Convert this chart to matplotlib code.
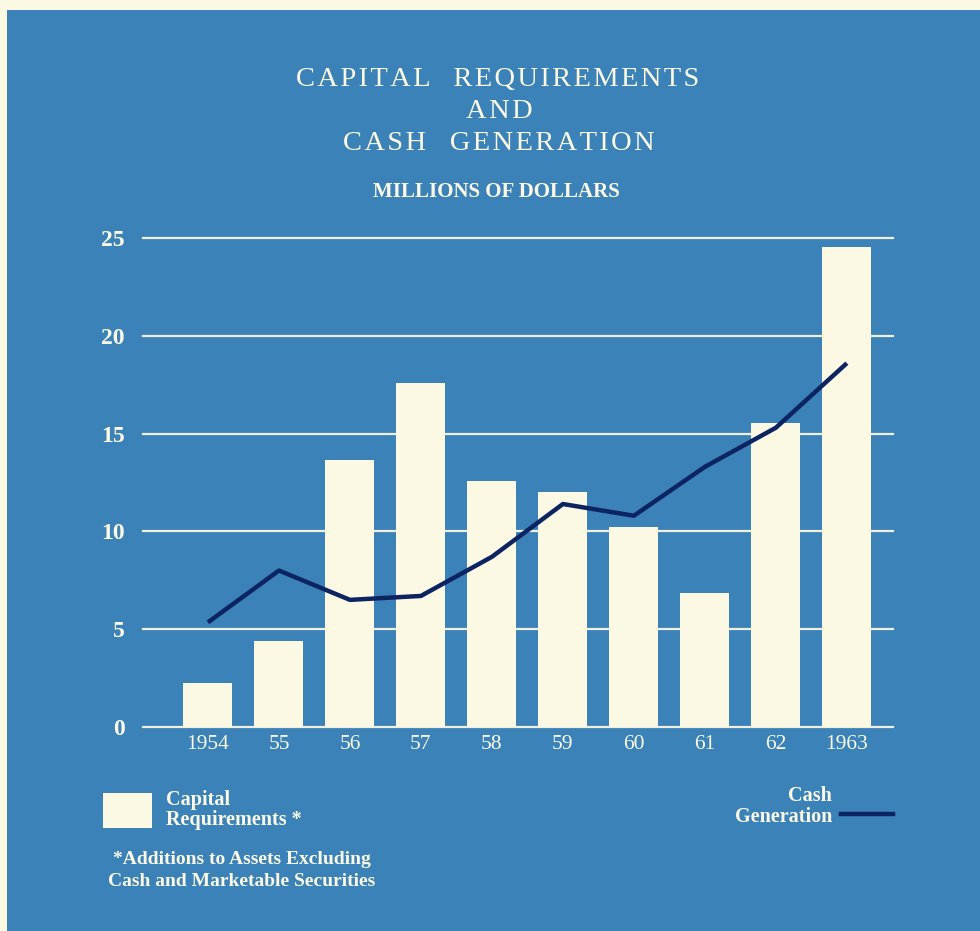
import matplotlib
matplotlib.use("Agg")
import matplotlib.pyplot as plt
from matplotlib.patches import Rectangle

# values (millions of dollars)
years = ["1954", "55", "56", "57", "58", "59", "60", "61", "62", "1963"]
capital_req = [2.25, 4.4, 13.65, 17.6, 12.6, 12.0, 10.2, 6.85, 15.55, 24.55]
cash_gen = [5.35, 8.0, 6.5, 6.7, 8.7, 11.4, 10.8, 13.3, 15.3, 18.6]
y_ticks = [0, 5, 10, 15, 20, 25]

BLUE = "#3b82b8"
CREAM = "#fbf9e4"
NAVY = "#0c2462"
SERIF = "Liberation Serif"


def spaced(s):
    # spread the letters a bit, like the printed title
    return "\u200a".join(s).replace("\u200a \u200a", "  ")


fig = plt.figure(figsize=(9.8, 9.31), dpi=100, facecolor=CREAM)
fig.patches.append(Rectangle((7 / 980, 0), 1, 1 - 10 / 931, transform=fig.transFigure,
                             facecolor=BLUE, edgecolor="none", zorder=-10))

ax = fig.add_axes([143 / 980, 1 - 727 / 931, 750 / 980, 489 / 931])
ax.set_facecolor("none")
x = range(len(years))

for v in y_ticks:
    ax.axhline(v, color="#f0eedc", lw=1.6, zorder=1, clip_on=False)

ax.bar(x, capital_req, width=0.69, color=CREAM, zorder=2)
ax.plot(x, cash_gen, color=NAVY, lw=3.2, zorder=3, solid_capstyle="butt")

ax.set_xlim(-0.915, 9.65)
ax.set_ylim(0, 25)
ax.set_xticks(list(x))
ax.set_xticklabels(years, family=SERIF, fontsize=15.5, color=CREAM)
ax.set_yticks(y_ticks)
ax.set_yticklabels([str(v) for v in y_ticks], family=SERIF, fontsize=17,
                   fontweight="bold", color=CREAM)
ax.tick_params(length=0)
ax.tick_params(axis="x", pad=6)
ax.tick_params(axis="y", pad=13)
for s in ax.spines.values():
    s.set_visible(False)

# title
fig.text(0.508, 1 - 79 / 931, spaced("CAPITAL  REQUIREMENTS"), family=SERIF,
         fontsize=20.5, color=CREAM, ha="center", va="center")
fig.text(0.510, 1 - 111 / 931, spaced("AND"), family=SERIF,
         fontsize=20.5, color=CREAM, ha="center", va="center")
fig.text(0.509, 1 - 144 / 931, spaced("CASH  GENERATION"), family=SERIF,
         fontsize=20.5, color=CREAM, ha="center", va="center")
fig.text(0.507, 1 - 192 / 931, "MILLIONS OF DOLLARS", family=SERIF,
         fontsize=15, fontweight="bold", color=CREAM, ha="center", va="center")

# legend
fig.patches.append(Rectangle((103 / 980, 1 - 828 / 931), 49 / 980, 35 / 931,
                             transform=fig.transFigure, facecolor=CREAM,
                             edgecolor="none", zorder=2))
fig.text(166 / 980, 1 - 800 / 931, "Capital", family=SERIF, fontsize=14.5,
         fontweight="bold", color=CREAM, ha="left", va="center")
fig.text(166 / 980, 1 - 820 / 931, "Requirements *", family=SERIF, fontsize=14.5,
         fontweight="bold", color=CREAM, ha="left", va="center")
fig.text(242 / 980, 1 - 860 / 931, "*Additions to Assets Excluding", family=SERIF,
         fontsize=14, fontweight="bold", color=CREAM, ha="center", va="center")
fig.text(242 / 980, 1 - 882 / 931, "Cash and Marketable Securities", family=SERIF,
         fontsize=14, fontweight="bold", color=CREAM, ha="center", va="center")

fig.text(832 / 980, 1 - 796 / 931, "Cash", family=SERIF, fontsize=14.5,
         fontweight="bold", color=CREAM, ha="right", va="center")
fig.text(832 / 980, 1 - 817 / 931, "Generation", family=SERIF, fontsize=14.5,
         fontweight="bold", color=CREAM, ha="right", va="center")
fig.lines.append(plt.Line2D([841 / 980, 893 / 980], [1 - 814 / 931, 1 - 814 / 931],
                            transform=fig.transFigure, color=NAVY, lw=3.2))

fig.savefig("out.png", dpi=100, facecolor=CREAM)
